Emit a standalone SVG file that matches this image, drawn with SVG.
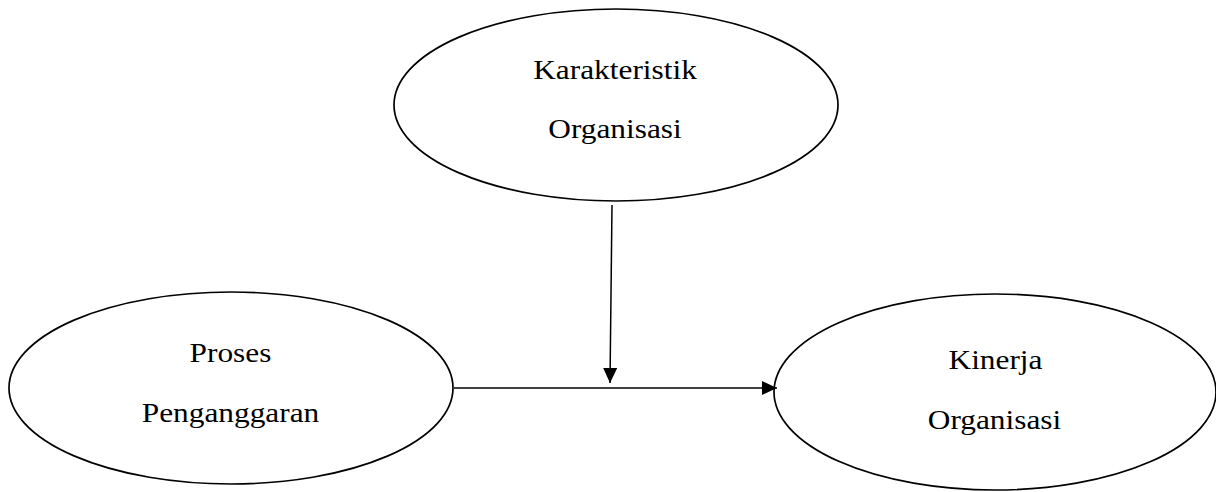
<svg xmlns="http://www.w3.org/2000/svg" width="1216" height="492" viewBox="0 0 1216 492">
<style>
.node ellipse{fill:#fff;stroke:#000;stroke-width:1.7}
.node text{font-family:"Liberation Serif","Times New Roman",serif;font-size:28px;fill:#000;text-anchor:middle}
.conn line{stroke:#000;stroke-width:1.5}
</style>
<defs>
<marker id="arrH" viewBox="0 0 15 14" refX="15" refY="7" markerWidth="15" markerHeight="14" markerUnits="userSpaceOnUse" orient="auto">
<path d="M0,0 L15,7 L0,14 Z" fill="#000"/>
</marker>
</defs>
<rect width="1216" height="492" fill="#fff"/>
<g id="karakteristik" class="node">
<ellipse cx="616" cy="105" rx="222" ry="96"/>
<text transform="translate(615,78.5) scale(1.12,1)">Karakteristik</text>
<text transform="translate(615,137.5) scale(1.12,1)">Organisasi</text>
</g>
<g id="proses" class="node">
<ellipse cx="231" cy="388" rx="222" ry="96"/>
<text transform="translate(230.5,362) scale(1.12,1)">Proses</text>
<text transform="translate(230.5,422) scale(1.12,1)">Penganggaran</text>
</g>
<g id="kinerja" class="node">
<ellipse cx="995" cy="392" rx="221" ry="98"/>
<text transform="translate(995.5,369) scale(1.12,1)">Kinerja</text>
<text transform="translate(994.5,429) scale(1.12,1)">Organisasi</text>
</g>
<g id="connectors" class="conn">
<line x1="454" y1="388" x2="777" y2="388" marker-end="url(#arrH)"/>
<line x1="612" y1="205" x2="610" y2="383" marker-end="url(#arrH)"/>
</g>
</svg>
